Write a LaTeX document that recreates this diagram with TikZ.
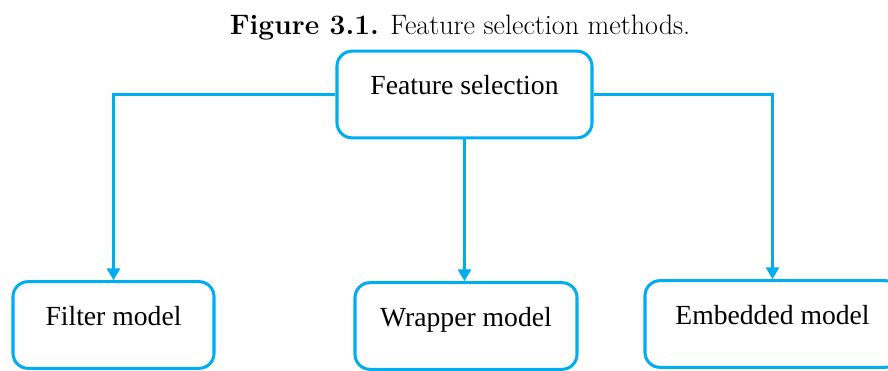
\documentclass[tikz,border=0pt]{standalone}
\usepackage{fontspec}
\newfontfamily\boxfont{Liberation Serif}
\usepackage{tikz}
\usetikzlibrary{arrows.meta}
\definecolor{linkblue}{RGB}{0,174,239}

\begin{document}
\begin{tikzpicture}[>={Triangle[length=10pt,width=11pt]},
    box/.style={draw=linkblue, line width=2.6pt, rounded corners=0.45cm, inner sep=0pt,
        text height=1.3cm, text depth=1.3cm, font=\boxfont\fontsize{23.6}{28}\selectfont},
    link/.style={->, draw=linkblue, line width=2.6pt}]
    \useasboundingbox (0,0) rectangle (26.64,11.1);
    \clip (0,0) rectangle (26.64,11.1);
    \node (caption) at (13.8,10.26) {\fontsize{24}{29}\selectfont\textbf{Figure 3.1.} Feature selection methods.};

    \node[box, minimum width=7.65cm] (fsel) at (13.935,8.265) {Feature selection};
    \node[box, minimum width=6.03cm] (filter) at (3.405,1.35) {Filter model};
    \node[box, minimum width=6.66cm] (wrapper) at (13.98,1.32) {Wrapper model};
    \node[box, minimum width=7.65cm] (embedded) at (23.175,1.38) {Embedded model};

    \draw[link] (fsel.west) -| (filter.north);
    \draw[link] (fsel.south) -- (fsel.south |- wrapper.north);
    \draw[link] (fsel.east) -| (embedded.north);
\end{tikzpicture}
\end{document}
